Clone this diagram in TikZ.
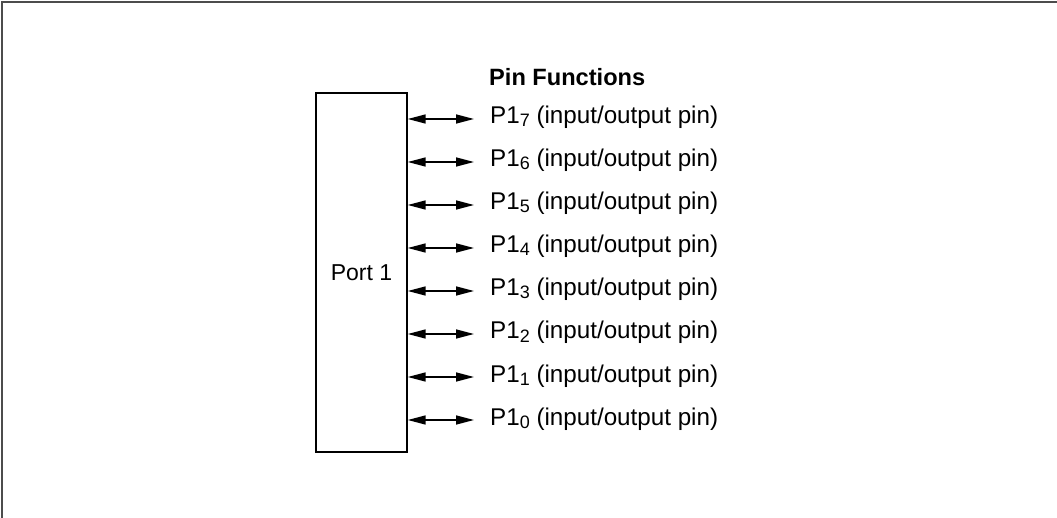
\documentclass[tikz,border=0pt]{standalone}
\usepackage{fontspec}
\setmainfont{Liberation Sans}
\usetikzlibrary{arrows.meta,positioning,calc}

\newcommand{\pinsub}[1]{\raisebox{-3pt}{\fontsize{18}{18}\selectfont #1}}

\begin{document}
\begin{tikzpicture}[x=1pt,y=-1pt,>={Triangle[length=18pt,width=9pt]},
  font=\fontsize{23}{27}\selectfont,
  pinlabel/.style={anchor=west,inner sep=0pt,text height=15pt,text depth=5pt,
    font=\fontsize{24.2}{28}\selectfont},
  pinarrow/.style={<->,line width=1.5pt}]
\useasboundingbox (0,0) rectangle (1057,518);
% frame
\draw[line width=2pt,black!70] (2,518) -- (2,2) -- (1057,2);
% port block
\node[draw,line width=1.4pt,minimum width=91pt,minimum height=359pt,inner sep=0pt] (port) at (361.5,272.5) {Port 1};
\node[anchor=base west,inner sep=0pt,font=\bfseries\fontsize{23.6}{27}\selectfont] (title) at (489,86) {Pin Functions};
% pins
\foreach \i in {0,...,7} {
  \node[pinlabel] (p\i) at (490,{420-43*\i}) {P1\pinsub{\i} (input/output pin)};
  \draw[pinarrow] (port.east |- p\i.west) -- ([xshift=-16pt]p\i.west);
}
\end{tikzpicture}
\end{document}
